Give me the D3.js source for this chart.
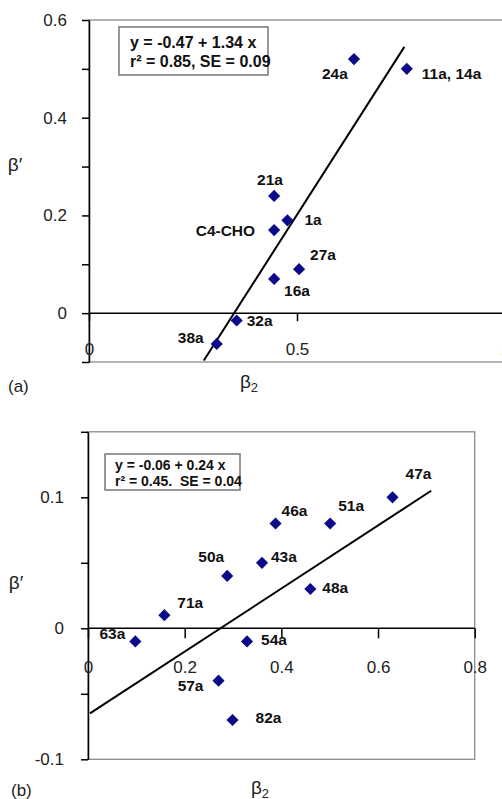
<!DOCTYPE html>
<html>
<head>
<meta charset="utf-8">
<script src="https://cdn.jsdelivr.net/npm/d3@7"></script>
<style>
  body { margin: 0; background: #fff; }
  svg text { font-family: "Liberation Sans", Arial, sans-serif; }
  .tick text { fill: #222; }
</style>
</head>
<body>
<div id="chart"></div>
<script>
// panel (a) data
var namesA = ["24a", "11a, 14a", "21a", "1a", "C4-CHO", "27a", "16a", "32a", "38a"];
var b2A    = [0.637, 0.764, 0.445, 0.477, 0.445, 0.505, 0.445, 0.355, 0.307];
var bpA    = [0.52, 0.50, 0.24, 0.19, 0.17, 0.09, 0.07, -0.015, -0.063];
var fitA   = [[0.276, -0.097], [0.758, 0.545]];
var legendA = ["y = -0.47 + 1.34 x", "r\u00b2 = 0.85, SE = 0.09"];
var yTicksA = [-0.1, 0, 0.1, 0.2, 0.3, 0.4, 0.5, 0.6];
var yLabelsA = [0, 0.2, 0.4, 0.6];
var xTicksA = [0, 0.5, 1];

// panel (b) data
var namesB = ["47a", "46a", "51a", "50a", "43a", "48a", "71a", "63a", "54a", "57a", "82a"];
var b2B    = [0.630, 0.388, 0.501, 0.288, 0.360, 0.460, 0.158, 0.098, 0.329, 0.270, 0.299];
var bpB    = [0.10, 0.08, 0.08, 0.04, 0.05, 0.03, 0.01, -0.01, -0.01, -0.04, -0.07];
var fitB   = [[0.004, -0.065], [0.71, 0.105]];
var legendB = ["y = -0.06 + 0.24 x", "r\u00b2 = 0.45.\u00a0 SE = 0.04"];
var yTicksB = [-0.1, -0.05, 0, 0.05, 0.1, 0.15];
var yLabelsB = [-0.1, 0, 0.1];
var xTicksB = [0, 0.2, 0.4, 0.6, 0.8];

// label placement (pixel offsets from each marker)
var offA = {
  "24a": [-32, 20, "start"], "11a, 14a": [15, 10, "start"], "21a": [-17, -11, "start"],
  "1a": [17, 5, "start"], "C4-CHO": [-19, 6, "end"], "27a": [11, -9, "start"],
  "16a": [10, 17, "start"], "32a": [10, 6, "start"], "38a": [-13, -1, "end"]
};
var offB = {
  "47a": [13, -18, "start"], "46a": [6, -8, "start"], "51a": [8, -13, "start"],
  "50a": [-3, -14, "end"], "43a": [9, -1, "start"], "48a": [12, 4, "start"],
  "71a": [13, -7, "start"], "63a": [-10, -2, "end"], "54a": [14, 4, "start"],
  "57a": [-15, 10, "end"], "82a": [23, 3, "start"]
};

var width = 502, height = 799;
var svg = d3.select("#chart").append("svg")
  .attr("width", width).attr("height", height);

function fmt(labels) {
  return function(d) {
    var hit = labels.some(function(v) { return Math.abs(v - d) < 1e-9; });
    return hit ? String(+d.toFixed(2)) : "";
  };
}

function panel(cfg) {
  var g = svg.append("g");
  var x = d3.scaleLinear().domain(cfg.xDom).range(cfg.xRange);
  var y = d3.scaleLinear().domain(cfg.yDom).range(cfg.yRange);

  // plot area border
  g.append("rect")
    .attr("x", x.range()[0]).attr("y", y.range()[1])
    .attr("width", cfg.borderRight - x.range()[0])
    .attr("height", y.range()[0] - y.range()[1])
    .attr("fill", "none").attr("stroke", "#8a8a8a").attr("stroke-width", 1.3);

  // legend box
  g.append("rect")
    .attr("x", cfg.box[0]).attr("y", cfg.box[1])
    .attr("width", cfg.box[2]).attr("height", cfg.box[3])
    .attr("fill", "#fff").attr("stroke", "#777").attr("stroke-width", 1.5);
  g.selectAll(".leg").data(cfg.legend).enter().append("text")
    .attr("x", cfg.box[0] + cfg.legPad)
    .attr("y", function(d, i) { return cfg.legY[i]; })
    .attr("font-size", cfg.legSize).attr("font-weight", "bold")
    .attr("fill", "#111")
    .text(function(d) { return d; });

  // y axis
  var yAxis = g.append("g")
    .attr("transform", "translate(" + x.range()[0] + ",0)")
    .call(d3.axisLeft(y).tickValues(cfg.yTicks).tickSizeInner(7).tickSizeOuter(0)
      .tickPadding(cfg.yPad).tickFormat(fmt(cfg.yLabels)));
  yAxis.selectAll("text").attr("font-size", 17).attr("font-family", "Liberation Sans, Arial");
  yAxis.selectAll("path, line").attr("stroke", "#000").attr("stroke-width", 1.5);

  // x axis drawn at y = 0
  var xAxis = g.append("g")
    .attr("transform", "translate(0," + y(0) + ")")
    .call(d3.axisBottom(x).tickValues(cfg.xTicks).tickSizeInner(cfg.xTick).tickSizeOuter(0)
      .tickPadding(cfg.xPad).tickFormat(function(d) { return String(d); }));
  xAxis.selectAll("text").attr("font-size", 17).attr("font-family", "Liberation Sans, Arial");
  xAxis.selectAll("path, line").attr("stroke", "#000").attr("stroke-width", 1.5);
  xAxis.select(".domain").attr("d", "M" + x.range()[0] + ",0H" + cfg.borderRight);

  // fit line
  g.append("line")
    .attr("x1", x(cfg.fit[0][0])).attr("y1", y(cfg.fit[0][1]))
    .attr("x2", x(cfg.fit[1][0])).attr("y2", y(cfg.fit[1][1]))
    .attr("stroke", "#000").attr("stroke-width", 2);

  // points
  var pts = cfg.names.map(function(n, i) { return {name: n, x: cfg.xs[i], y: cfg.ys[i]}; });
  g.selectAll(".pt").data(pts).enter().append("path")
    .attr("d", d3.symbol(d3.symbolSquare, 74))
    .attr("transform", function(d) { return "translate(" + x(d.x) + "," + y(d.y) + ") rotate(45)"; })
    .attr("fill", "#0b0b8a");

  g.selectAll(".lbl").data(pts).enter().append("text")
    .attr("x", function(d) { return x(d.x) + cfg.off[d.name][0]; })
    .attr("y", function(d) { return y(d.y) + cfg.off[d.name][1]; })
    .attr("text-anchor", function(d) { return cfg.off[d.name][2]; })
    .attr("font-size", 15.5).attr("font-weight", "bold").attr("fill", "#111")
    .text(function(d) { return d.name; });

  // axis titles
  g.append("text")
    .attr("x", cfg.yTitle[0]).attr("y", cfg.yTitle[1])
    .attr("font-family", "Liberation Serif, Times New Roman, serif")
    .attr("font-size", 19).attr("fill", "#222").attr("text-anchor", "middle")
    .text("\u03b2\u2032");
  var xt = g.append("text")
    .attr("x", cfg.xTitle[0]).attr("y", cfg.xTitle[1])
    .attr("font-family", "Liberation Serif, Times New Roman, serif")
    .attr("font-size", 19).attr("fill", "#222").attr("text-anchor", "middle");
  xt.append("tspan").text("\u03b2");
  xt.append("tspan").attr("font-size", 13).attr("dy", 4).text("2");

  g.append("text")
    .attr("x", cfg.tag[0]).attr("y", cfg.tag[1])
    .attr("font-size", 17).attr("fill", "#222")
    .text(cfg.tagText);
}

panel({
  names: namesA, xs: b2A, ys: bpA, fit: fitA, off: offA,
  xDom: [0, 1], xRange: [89, 505], yDom: [-0.1, 0.6], yRange: [362, 20],
  borderRight: 505,
  yTicks: yTicksA, yLabels: yLabelsA, yPad: 15,
  xTicks: xTicksA, xTick: 8, xPad: 22,
  box: [119, 27, 149, 48], legend: legendA, legY: [48, 67], legPad: 11, legSize: 16,
  yTitle: [15, 171], xTitle: [249, 388], tag: [8, 392], tagText: "(a)"
});

panel({
  names: namesB, xs: b2B, ys: bpB, fit: fitB, off: offB,
  xDom: [0, 0.8], xRange: [88, 474.7], yDom: [-0.1, 0.15], yRange: [759.3, 431.8],
  borderRight: 474.7,
  yTicks: yTicksB, yLabels: yLabelsB, yPad: 17,
  xTicks: xTicksB, xTick: 10, xPad: 23,
  box: [105, 454, 135, 36], legend: legendB, legY: [470, 486], legPad: 10, legSize: 14,
  yTitle: [16, 589], xTitle: [260, 794], tag: [11, 796], tagText: "(b)"
});
</script>
</body>
</html>
